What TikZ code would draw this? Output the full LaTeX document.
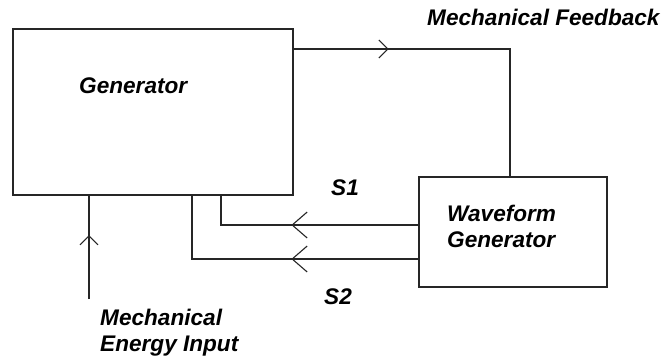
\documentclass[tikz,border=0pt]{standalone}
\usepackage{fontspec}
\setmainfont{Liberation Sans}
\usetikzlibrary{arrows.meta,decorations.markings}
\tikzset{
  x=1pt, y=-1pt,
  wire/.style={line width=1.3pt, draw=black!85},
  blockbox/.style={draw=black!85, line width=1.3pt, rectangle, inner sep=0pt, fill=white},
  lbl/.style={inner sep=0pt, font=\fontsize{22.6}{26}\selectfont\bfseries\itshape, align=left},
  bigchev/.style={postaction={decorate}, decoration={markings, mark=at position #1 with {\arrow[line width=1.1pt]{Straight Barb[length=15pt,width=26pt]}}}},
  smallchev/.style={postaction={decorate}, decoration={markings, mark=at position #1 with {\arrow[line width=1.1pt]{Straight Barb[length=9pt,width=18pt]}}}},
}
\begin{document}
\begin{tikzpicture}
\useasboundingbox (0,0) rectangle (663,362);
\fill[white] (0,0) rectangle (663,362);
% blocks
\node[blockbox, minimum width=280pt, minimum height=166pt] (gen) at (153,112) {};
\node[blockbox, minimum width=188pt, minimum height=110pt] (wf) at (513,232) {};
% labels
\node[lbl, anchor=west] (genlbl) at (79,86) {Generator};
\node[lbl, anchor=west] (wflbl) at (447,226) {Waveform\\Generator};
\node[lbl] (s1) at (345,188) {S1};
\node[lbl] (s2) at (338,297) {S2};
\node[lbl, anchor=west] (fblbl) at (427,17) {Mechanical Feedback};
\node[lbl, anchor=west] (inlbl) at (100,333) {Mechanical\\Energy Input};
% connector helpers
\coordinate (fbc) at (510,49);
\coordinate (s1c) at (221,225);
\coordinate (s2c) at (192,259);
\coordinate (inc) at (89,299);
% mechanical feedback
\draw[wire, smallchev=95pt] (gen.east |- fbc) -- (fbc) -- (wf.north -| fbc);
% S1 and S2
\draw[wire, bigchev=127pt] (wf.west |- s1c) -- (s1c) -- (gen.south -| s1c);
\draw[wire, bigchev=127pt] (wf.west |- s2c) -- (s2c) -- (gen.south -| s2c);
% mechanical energy input
\draw[wire, smallchev=64pt] (inc) -- (gen.south -| inc);
\end{tikzpicture}
\end{document}
